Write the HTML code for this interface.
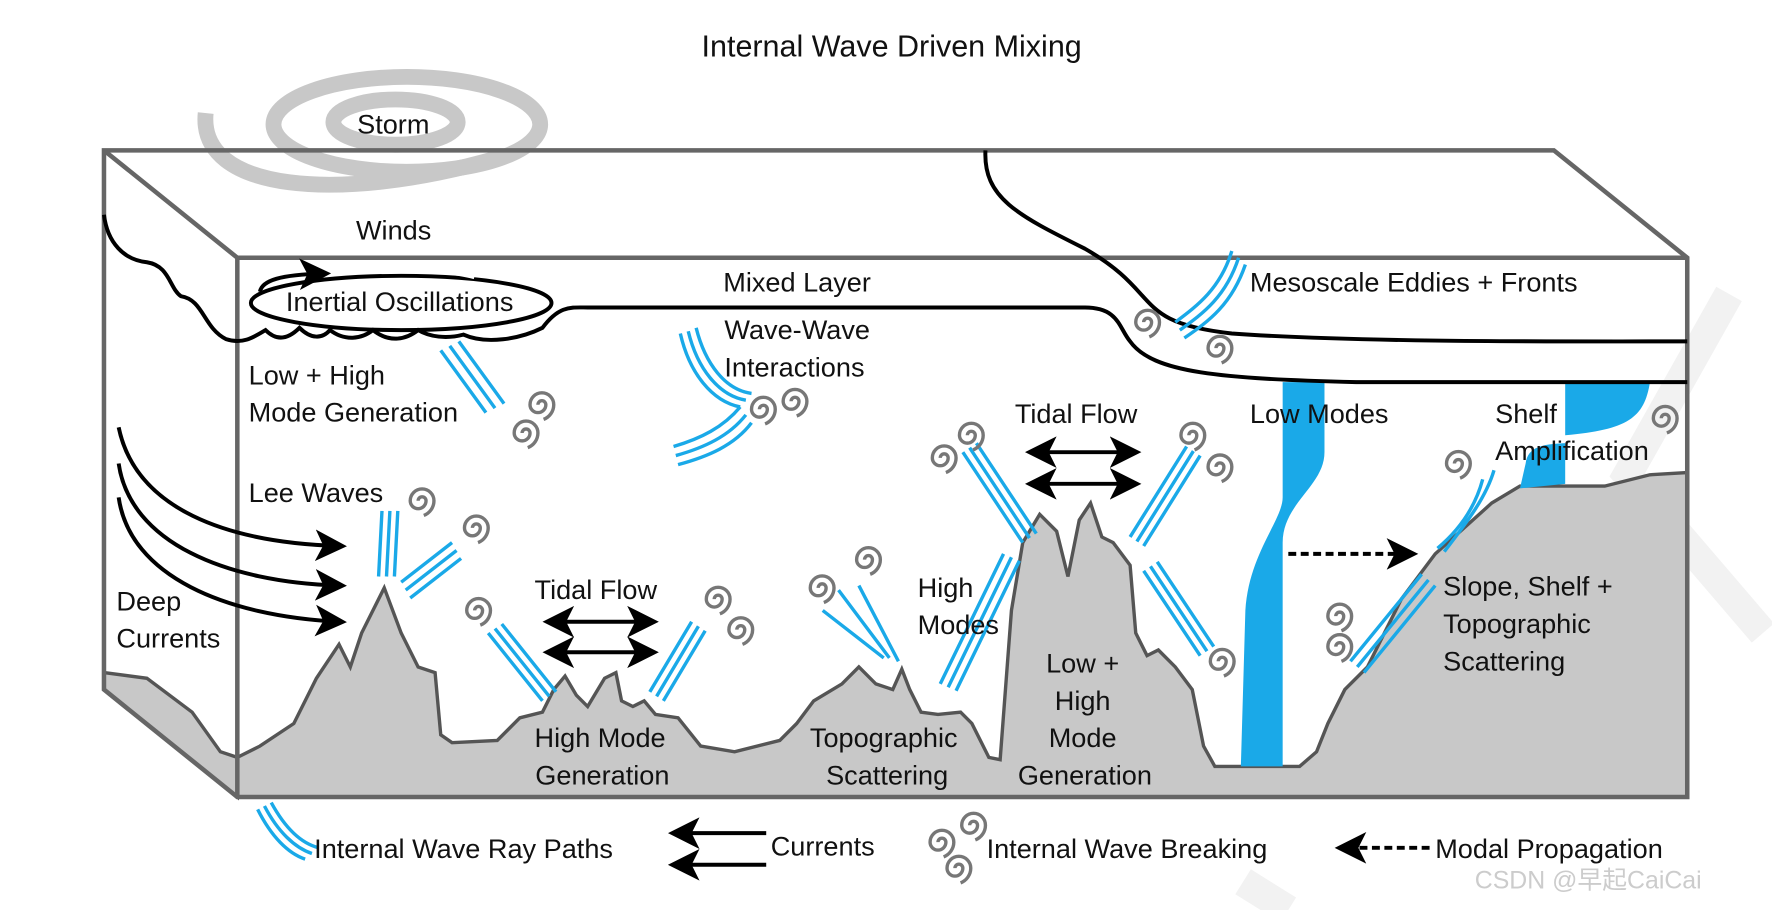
<!DOCTYPE html>
<html><head><meta charset="utf-8"><style>
html,body{margin:0;padding:0;background:#fff;}
svg{display:block}
text{font-family:"Liberation Sans",sans-serif;fill:#111;font-size:24px}
</style></head><body>
<svg width="1772" height="910" viewBox="0 0 1568 805" preserveAspectRatio="none" xmlns="http://www.w3.org/2000/svg">
<defs>
<marker id="ah" markerWidth="8" markerHeight="8" refX="6" refY="4" orient="auto-start-reverse" markerUnits="strokeWidth"><path d="M0,0 L8,4 L0,8 L2,4 Z" fill="#000"/></marker>
<g id="sp"><path d="M0,0 a3.5,3.5 0 1 1 7,0 a7,7 0 1 1 -14,0 a10.5,10.5 0 1 1 21,0 a14,14 0 0 1 -9,13" fill="none" stroke="#777" stroke-width="3"/></g>
</defs>
<!-- watermark -->
<path d="M1530,260 L1440,420 L1560,560" fill="none" stroke="#f2f2f2" stroke-width="26"/>
<path d="M1100,780 L1140,805" stroke="#f2f2f2" stroke-width="26"/>
<text x="789" y="50" text-anchor="middle" style="font-size:27px">Internal Wave Driven Mixing</text>
<!-- storm -->
<g fill="none" stroke="#c8c8c8" stroke-width="14">
<ellipse cx="360" cy="110" rx="118" ry="42"/>
<path d="M182,100 C175,170 300,180 440,140"/>
<ellipse cx="350" cy="108" rx="55" ry="20"/>
</g>
<text x="348" y="118" text-anchor="middle">Storm</text>
<!-- seafloor -->
<path d="M210,705 L210,670 L230,660 L260,640 L280,600 L300,570 L310,590 L320,560 L340,520 L355,560 L370,590 L385,595 L390,650 L400,657 L440,655 L460,635 L480,630 L490,610 L500,598 L510,615 L520,625 L535,600 L545,595 L550,620 L560,625 L570,620 L580,632 L600,635 L620,660 L650,665 L690,655 L705,640 L720,620 L745,605 L760,590 L775,605 L790,610 L798,592 L805,610 L815,630 L830,632 L850,630 L860,640 L875,670 L885,672 L895,540 L905,480 L920,455 L935,470 L945,510 L955,460 L965,445 L975,475 L985,480 L1000,500 L1005,560 L1015,580 L1025,575 L1040,590 L1055,610 L1065,660 L1075,678 L1150,678 L1165,665 L1175,640 L1190,610 L1210,590 L1240,530 L1270,490 L1320,445 L1345,430 L1420,430 L1460,420 L1493,418 L1493,705 Z" fill="#c8c8c8" stroke="#555" stroke-width="3"/>
<path d="M92,595 L130,600 L170,630 L195,665 L210,670 L210,705 L92,610 Z" fill="#c8c8c8" stroke="#555" stroke-width="3"/>
<!-- blue -->
<path d="M1135,338 L1172,338 L1172,400 C1172,430 1135,445 1135,480 L1135,678 L1098,678 L1102,540 C1105,490 1135,460 1135,440 Z" fill="#1aa9e8"/>
<path d="M1385,338 L1460,338 C1455,370 1440,380 1385,385 Z" fill="#1aa9e8"/>
<path d="M1350,410 C1352,395 1365,393 1385,392 L1385,428 L1345,432 Z" fill="#1aa9e8"/>
<!-- box -->
<g fill="none" stroke="#666" stroke-width="4">
<path d="M92,133 L1375,133 L1493,228 L1493,705 L210,705 L92,610 Z"/>
<path d="M92,133 L210,228 L1493,228 M210,228 L210,705"/>
</g>
<!-- mixed layer lines -->
<g fill="none" stroke="#000" stroke-width="3.5">
<path d="M92,190 C95,215 110,230 130,232 C150,235 150,255 160,262 C180,265 180,290 200,300 C215,305 225,298 235,292 C245,302 255,300 265,290 C275,300 285,300 292,292 C305,302 320,300 330,292 C345,304 360,300 370,292 C380,298 395,300 410,296 C430,305 460,300 480,290 C495,270 505,272 520,272 L960,272 C990,272 990,290 1000,302 C1020,330 1080,335 1200,338 L1493,338"/>
<path d="M872,133 C870,175 900,190 960,220 C1030,260 1000,285 1090,295 C1200,303 1380,302 1493,302"/>
<ellipse cx="355" cy="268" rx="133" ry="24"/>
</g>
<path d="M420,244 C390,236 310,232 265,244" fill="none" stroke="#fff" stroke-width="6"/>
<path d="M230,258 C232,248 248,243 286,242" fill="none" stroke="#000" stroke-width="3.5" marker-end="url(#ah)"/>
<!-- blue ray triples -->
<g fill="none" stroke="#1aa9e8" stroke-width="3">
<path d="M390,310 L430,365 M398,306 L438,361 M406,302 L446,357"/>
<path d="M602,295 C610,330 630,355 655,360 M609,293 C617,326 636,350 660,354 M616,290 C624,322 642,345 665,348"/>
<path d="M596,395 C620,388 640,378 655,360 M598,403 C623,396 645,386 660,367 M600,411 C626,404 650,394 665,374"/>
<path d="M1040,285 C1060,270 1080,255 1090,222 M1044,292 C1065,277 1085,262 1096,228 M1048,299 C1070,284 1090,269 1102,234"/>
<path d="M335,510 L338,452 M342,510 L345,452 M349,510 L352,452"/>
<path d="M355,515 L400,480 M359,522 L404,487 M363,529 L408,494"/>
<path d="M432,560 L480,620 M438,556 L486,616 M444,552 L492,612"/>
<path d="M575,612 L612,550 M581,616 L618,554 M587,620 L624,558"/>
<path d="M728,540 L782,582 M742,522 L787,582 M760,518 L795,585"/>
<path d="M832,605 L888,490 M839,608 L895,493 M846,611 L902,496"/>
<path d="M852,400 L905,480 M858,396 L911,476 M864,392 L917,472"/>
<path d="M1000,475 L1050,395 M1006,479 L1056,399 M1012,483 L1062,403"/>
<path d="M1012,505 L1062,580 M1018,501 L1068,576 M1024,497 L1074,572"/>
<path d="M1195,585 L1258,508 M1201,590 L1264,513 M1207,595 L1270,518"/>
<path d="M1272,485 C1290,470 1305,450 1312,424 M1278,488 C1298,462 1315,440 1322,416"/>
<path d="M228,716 C240,740 255,755 270,760 M234,713 C246,736 261,750 276,755 M240,710 C252,732 266,746 282,750"/>
</g>
<!-- spirals -->
<use href="#sp" x="476" y="358"/><use href="#sp" x="462" y="383"/>
<use href="#sp" x="672" y="362"/><use href="#sp" x="700" y="355"/>
<use href="#sp" x="1012" y="285"/><use href="#sp" x="1076" y="308"/>
<use href="#sp" x="370" y="443"/><use href="#sp" x="418" y="467"/>
<use href="#sp" x="420" y="540"/><use href="#sp" x="632" y="530"/><use href="#sp" x="652" y="557"/>
<use href="#sp" x="724" y="520"/><use href="#sp" x="765" y="495"/>
<use href="#sp" x="832" y="405"/><use href="#sp" x="856" y="385"/>
<use href="#sp" x="1052" y="385"/><use href="#sp" x="1076" y="413"/>
<use href="#sp" x="1078" y="585"/><use href="#sp" x="1182" y="545"/><use href="#sp" x="1182" y="572"/>
<use href="#sp" x="1287" y="410"/><use href="#sp" x="1470" y="370"/>
<use href="#sp" x="830" y="745"/><use href="#sp" x="858" y="730"/><use href="#sp" x="845" y="768"/>
<!-- black arrows -->
<g fill="none" stroke="#000" stroke-width="3.5">
<path d="M105,378 C120,450 200,480 300,483" marker-end="url(#ah)"/>
<path d="M105,410 C115,480 200,515 300,518" marker-end="url(#ah)"/>
<path d="M105,440 C115,510 200,545 300,550" marker-end="url(#ah)"/>
<path d="M487,550 L576,550" marker-end="url(#ah)" marker-start="url(#ah)"/>
<path d="M487,577 L576,577" marker-end="url(#ah)" marker-start="url(#ah)"/>
<path d="M914,400 L1003,400" marker-end="url(#ah)" marker-start="url(#ah)"/>
<path d="M914,428 L1003,428" marker-end="url(#ah)" marker-start="url(#ah)"/>
<path d="M678,737 L598,737" marker-end="url(#ah)"/>
<path d="M678,765 L598,765" marker-end="url(#ah)"/>
<path d="M1140,490 L1248,490" stroke-dasharray="7,4" marker-end="url(#ah)"/>
<path d="M1265,750 L1188,750" stroke-dasharray="7,4" marker-end="url(#ah)"/>
</g>
<!-- labels -->
<text x="315" y="212">Winds</text>
<text x="253" y="275">Inertial Oscillations</text>
<text x="640" y="258">Mixed Layer</text>
<text x="1106" y="258">Mesoscale Eddies + Fronts</text>
<text x="220" y="340">Low + High</text>
<text x="220" y="373">Mode Generation</text>
<text x="641" y="300">Wave-Wave</text>
<text x="641" y="333">Interactions</text>
<text x="898" y="374">Tidal Flow</text>
<text x="1106" y="374">Low Modes</text>
<text x="1323" y="374">Shelf</text>
<text x="1323" y="407">Amplification</text>
<text x="220" y="444">Lee Waves</text>
<text x="473" y="530">Tidal Flow</text>
<text x="103" y="540">Deep</text>
<text x="103" y="573">Currents</text>
<text x="812" y="528">High</text>
<text x="812" y="561">Modes</text>
<text x="1277" y="527">Slope, Shelf +</text>
<text x="1277" y="560">Topographic</text>
<text x="1277" y="593">Scattering</text>
<text x="958" y="595" text-anchor="middle">Low +</text>
<text x="958" y="628" text-anchor="middle">High</text>
<text x="958" y="661" text-anchor="middle">Mode</text>
<text x="960" y="694" text-anchor="middle">Generation</text>
<text x="531" y="661" text-anchor="middle">High Mode</text>
<text x="533" y="694" text-anchor="middle">Generation</text>
<text x="782" y="661" text-anchor="middle">Topographic</text>
<text x="785" y="694" text-anchor="middle">Scattering</text>
<text x="278" y="759">Internal Wave Ray Paths</text>
<text x="682" y="757">Currents</text>
<text x="873" y="759">Internal Wave Breaking</text>
<text x="1270" y="759">Modal Propagation</text>
<text x="1305" y="786" style="fill:#ccc;font-size:22px">CSDN @早起CaiCai</text>
</svg>
</body></html>
